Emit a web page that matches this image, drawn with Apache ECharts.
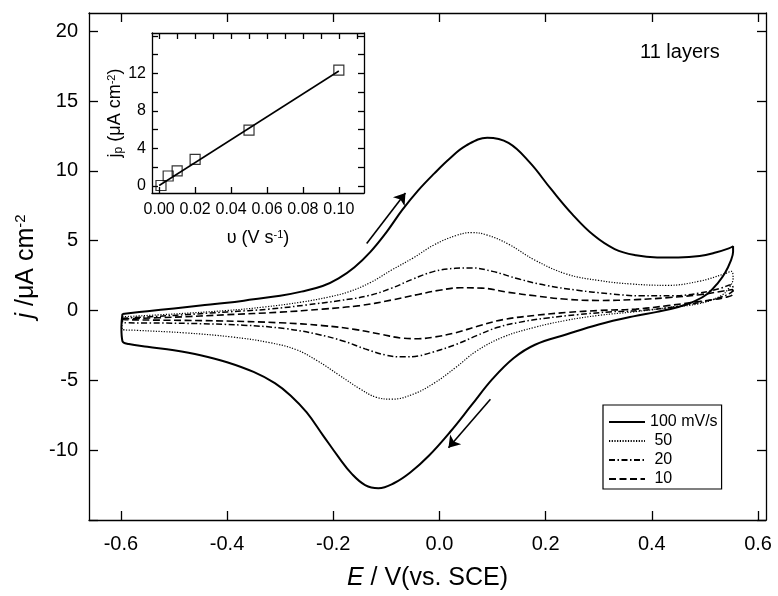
<!DOCTYPE html>
<html><head><meta charset="utf-8">
<script src="https://cdn.jsdelivr.net/npm/echarts@6/dist/echarts.min.js"></script>
<style>html,body{margin:0;padding:0;background:#fff}#c{width:778px;height:596px}</style>
</head><body><div id="c"></div>
<script>
// ---- data (E / V vs SCE, j / uA cm^-2) ----
const cv100 = [[-0.597,-0.25],[-0.55,-0.05],[-0.5,0.15],[-0.45,0.35],[-0.4,0.55],[-0.35,0.8],[-0.3,1.05],[-0.26,1.35],[-0.22,1.75],[-0.19,2.3],[-0.16,3.1],[-0.13,4.2],[-0.10,5.6],[-0.07,7.2],[-0.04,8.6],[-0.01,9.8],[0.02,10.9],[0.05,11.8],[0.09,12.37],[0.13,12.0],[0.17,10.6],[0.21,8.7],[0.25,6.9],[0.29,5.4],[0.33,4.4],[0.37,3.95],[0.41,3.8],[0.45,3.8],[0.49,3.9],[0.52,4.15],[0.545,4.45],[0.553,4.6],[0.553,4.2],[0.548,3.5],[0.538,2.7],[0.525,2.0],[0.505,1.2],[0.48,0.65],[0.45,0.25],[0.41,-0.1],[0.365,-0.42],[0.30,-1.0],[0.24,-1.7],[0.18,-2.45],[0.14,-3.4],[0.10,-4.9],[0.06,-6.8],[0.02,-8.7],[-0.02,-10.4],[-0.055,-11.6],[-0.085,-12.35],[-0.115,-12.72],[-0.14,-12.5],[-0.165,-11.7],[-0.19,-10.5],[-0.22,-8.9],[-0.25,-7.3],[-0.28,-6.1],[-0.31,-5.2],[-0.35,-4.4],[-0.40,-3.7],[-0.45,-3.2],[-0.50,-2.85],[-0.55,-2.6],[-0.585,-2.4],[-0.597,-2.2],[-0.599,-1.2],[-0.597,-0.25]];
const cv50 = [[-0.597,-0.45],[-0.5,-0.25],[-0.4,0.0],[-0.33,0.25],[-0.26,0.6],[-0.21,0.95],[-0.17,1.35],[-0.13,2.0],[-0.09,2.9],[-0.05,3.75],[-0.01,4.7],[0.03,5.35],[0.06,5.58],[0.09,5.4],[0.13,4.75],[0.18,3.6],[0.24,2.6],[0.30,2.15],[0.36,1.9],[0.43,1.8],[0.49,2.1],[0.535,2.6],[0.55,2.8],[0.553,2.3],[0.545,1.6],[0.53,1.05],[0.49,0.5],[0.43,0.2],[0.365,-0.1],[0.30,-0.35],[0.24,-0.7],[0.18,-1.2],[0.12,-1.9],[0.07,-2.9],[0.03,-4.1],[-0.01,-5.2],[-0.05,-6.0],[-0.09,-6.35],[-0.12,-6.2],[-0.15,-5.6],[-0.19,-4.6],[-0.23,-3.6],[-0.27,-2.8],[-0.32,-2.3],[-0.39,-1.9],[-0.48,-1.6],[-0.57,-1.42],[-0.597,-1.35],[-0.598,-0.9],[-0.597,-0.45]];
const cv20 = [[-0.597,-0.55],[-0.5,-0.35],[-0.4,-0.1],[-0.32,0.1],[-0.25,0.4],[-0.19,0.7],[-0.135,1.05],[-0.09,1.6],[-0.05,2.25],[-0.01,2.8],[0.03,3.02],[0.06,3.05],[0.1,2.8],[0.15,2.25],[0.2,1.8],[0.26,1.45],[0.32,1.2],[0.38,1.05],[0.44,1.05],[0.49,1.25],[0.53,1.6],[0.55,1.85],[0.553,1.5],[0.54,1.1],[0.5,0.65],[0.44,0.25],[0.38,0.0],[0.32,-0.1],[0.26,-0.3],[0.2,-0.55],[0.15,-0.85],[0.11,-1.2],[0.07,-1.8],[0.03,-2.45],[-0.01,-2.95],[-0.04,-3.25],[-0.07,-3.32],[-0.1,-3.2],[-0.14,-2.75],[-0.18,-2.2],[-0.23,-1.7],[-0.29,-1.3],[-0.37,-1.05],[-0.48,-0.92],[-0.597,-0.85],[-0.597,-0.55]];
const cv10 = [[-0.597,-0.6],[-0.5,-0.48],[-0.4,-0.3],[-0.3,-0.12],[-0.22,0.1],[-0.15,0.35],[-0.09,0.75],[-0.04,1.15],[0.0,1.45],[0.04,1.63],[0.08,1.6],[0.13,1.3],[0.18,1.05],[0.24,0.8],[0.3,0.72],[0.37,0.78],[0.43,0.92],[0.49,1.13],[0.535,1.4],[0.552,1.5],[0.553,1.2],[0.54,0.95],[0.49,0.65],[0.43,0.35],[0.37,0.1],[0.3,0.0],[0.24,-0.14],[0.18,-0.35],[0.12,-0.65],[0.07,-1.15],[0.03,-1.6],[-0.01,-1.9],[-0.04,-2.02],[-0.07,-1.98],[-0.11,-1.7],[-0.16,-1.35],[-0.22,-1.08],[-0.3,-0.88],[-0.42,-0.74],[-0.597,-0.64],[-0.597,-0.6]];
const seriesNames = ['100 mV/s','50','20','10'];
// inset: scan rate (V/s) vs peak current (uA cm^-2)
const scanRate = [0.001,0.005,0.01,0.02,0.05,0.1];
const peakCurrent = [0.05,1.06,1.6,2.84,5.96,12.34];
const fitLine = [[0.0,0.05],[0.1,12.25]];
// arrows (data coords)
const arrowUp = [[-0.137,4.8],[-0.064,8.41]];
const arrowDown = [[0.096,-6.36],[0.017,-9.82]];
// ticks
const mainXTicks = [-0.6,-0.4,-0.2,0,0.2,0.4,0.6];
const mainYTicks = [-10,-5,0,5,10,15,20];
const mainYTickMarks = [-15,-10,-5,0,5,10,15,20];
const insetXTicks = [0,0.02,0.04,0.06,0.08,0.1];
const insetXTopTicks = [0,0.01,0.02,0.03,0.04,0.05,0.06,0.07,0.08,0.09,0.1,0.11];
const insetYTicks = [0,4,8,12];
const insetYTickMarks = [0,2,4,6,8,10,12,14,16];

const FF = '"Liberation Sans", Arial, Helvetica, sans-serif';
const ax = {color:'#000', width:1.3};
const chart = echarts.init(document.getElementById('c'), null, {renderer:'canvas'});

const pairs = scanRate.map((v,i)=>[v, peakCurrent[i]]);

const option = {
  backgroundColor:'#fff',
  animation:false,
  textStyle:{fontFamily:FF, color:'#000'},
  title:{text:'11 layers', left:640, top:42, padding:0, textStyle:{fontFamily:FF, fontSize:20, fontWeight:'normal', color:'#000'}},
  legend:{
    data:seriesNames, orient:'vertical', left:603, top:405,
    padding:[9,4,2,5], itemGap:3, itemWidth:36, itemHeight:14,
    borderColor:'#000', borderWidth:1.2, backgroundColor:'#fff',
    itemStyle:{color:'rgba(0,0,0,0)', borderColor:'rgba(0,0,0,0)', borderWidth:0, opacity:0},
    formatter: n => n === '100 mV/s' ? n : ' ' + n,
    textStyle:{fontFamily:FF, fontSize:16, color:'#000', lineHeight:16}
  },
  grid:[
    {left:89, top:13, width:677, height:510},
    {left:152, top:33, width:212, height:160, show:true, backgroundColor:'#fff', borderWidth:0}
  ],
  xAxis:[
    {gridIndex:0, type:'value', min:-0.66, max:0.615, position:'bottom',
     axisLine:{onZero:false, lineStyle:ax},
     axisTick:{inside:true, length:9, customValues:mainXTicks, lineStyle:ax},
     axisLabel:{customValues:mainXTicks, formatter:v=>v.toFixed(1), color:'#000', fontSize:20, margin:14, fontFamily:FF},
     splitLine:{show:false},
     name:'{i|E} / V(vs. SCE)', nameLocation:'middle', nameGap:46,
     nameTextStyle:{fontFamily:FF, fontSize:25, color:'#000', rich:{i:{fontStyle:'italic', fontSize:25, fontFamily:FF}}}},
    {gridIndex:0, type:'value', min:-0.66, max:0.615, position:'top',
     axisLine:{onZero:false, lineStyle:ax},
     axisTick:{inside:true, length:9, customValues:mainXTicks, lineStyle:ax},
     axisLabel:{show:false}, splitLine:{show:false}},
    {gridIndex:1, type:'value', min:-0.004, max:0.114, position:'bottom',
     axisLine:{onZero:false, lineStyle:ax},
     axisTick:{inside:true, length:6, customValues:insetXTicks, lineStyle:ax},
     axisLabel:{customValues:insetXTicks, formatter:v=>v.toFixed(2), color:'#000', fontSize:16, margin:9, fontFamily:FF},
     splitLine:{show:false},
     name:'\u03c5 (V s{sup|-1})', nameLocation:'middle', nameGap:36,
     nameTextStyle:{fontFamily:FF, fontSize:18, color:'#000', rich:{sup:{fontSize:11, verticalAlign:'top', fontFamily:FF}}}},
    {gridIndex:1, type:'value', min:-0.004, max:0.114, position:'top',
     axisLine:{onZero:false, lineStyle:ax},
     axisTick:{inside:true, length:6, customValues:insetXTopTicks, lineStyle:ax},
     axisLabel:{show:false}, splitLine:{show:false}}
  ],
  yAxis:[
    {gridIndex:0, type:'value', min:-15, max:21.3, position:'left',
     axisLine:{onZero:false, lineStyle:ax},
     axisTick:{inside:true, length:9, customValues:mainYTickMarks, lineStyle:ax},
     axisLabel:{customValues:mainYTicks, color:'#000', fontSize:20, margin:11, fontFamily:FF},
     splitLine:{show:false},
     name:'{i|j} /\u03bcA cm{sup|-2}', nameLocation:'middle', nameGap:44,
     nameTextStyle:{fontFamily:FF, fontSize:25, color:'#000', rich:{i:{fontStyle:'italic', fontSize:25, fontFamily:FF}, sup:{fontSize:15, verticalAlign:'top', fontFamily:FF}}}},
    {gridIndex:0, type:'value', min:-15, max:21.3, position:'right',
     axisLine:{onZero:false, lineStyle:ax},
     axisTick:{inside:true, length:9, customValues:mainYTickMarks, lineStyle:ax},
     axisLabel:{show:false}, splitLine:{show:false}},
    {gridIndex:1, type:'value', min:-0.75, max:16.3, position:'left',
     axisLine:{onZero:false, lineStyle:ax},
     axisTick:{inside:true, length:6, customValues:insetYTickMarks, lineStyle:ax},
     axisLabel:{customValues:insetYTicks, color:'#000', fontSize:16, margin:6, fontFamily:FF},
     splitLine:{show:false},
     name:'j{sub|p} (\u03bcA cm{sup|-2})', nameLocation:'middle', nameGap:25,
     nameTextStyle:{fontFamily:FF, fontSize:18, color:'#000', rich:{sub:{fontSize:12, verticalAlign:'bottom', fontFamily:FF}, sup:{fontSize:11, verticalAlign:'top', fontFamily:FF}}}},
    {gridIndex:1, type:'value', min:-0.75, max:16.3, position:'right',
     axisLine:{onZero:false, lineStyle:ax},
     axisTick:{inside:true, length:6, customValues:insetYTickMarks, lineStyle:ax},
     axisLabel:{show:false}, splitLine:{show:false}}
  ],
  series:[
    {name:seriesNames[0], type:'line', xAxisIndex:0, yAxisIndex:0, data:cv100, symbol:'none', smooth:0.4,
     lineStyle:{color:'#000', width:2, type:'solid'}, itemStyle:{color:'#000'}},
    {name:seriesNames[1], type:'line', xAxisIndex:0, yAxisIndex:0, data:cv50, symbol:'none', smooth:0.4,
     lineStyle:{color:'#000', width:1.2, type:[1.2,1.5]}, itemStyle:{color:'#000'}},
    {name:seriesNames[2], type:'line', xAxisIndex:0, yAxisIndex:0, data:cv20, symbol:'none', smooth:0.4,
     lineStyle:{color:'#000', width:1.5, type:[6,2.5,1.5,2.5]}, itemStyle:{color:'#000'}},
    {name:seriesNames[3], type:'line', xAxisIndex:0, yAxisIndex:0, data:cv10, symbol:'none', smooth:0.4,
     lineStyle:{color:'#000', width:1.6, type:[7,3.5]}, itemStyle:{color:'#000'}},
    {name:'arrows', type:'lines', coordinateSystem:'cartesian2d', xAxisIndex:0, yAxisIndex:0,
     symbol:['none','arrow'], symbolSize:[8,11],
     lineStyle:{color:'#000', width:1.6, opacity:1},
     data:[{coords:arrowUp},{coords:arrowDown}]},
    {name:'fit', type:'line', xAxisIndex:2, yAxisIndex:2, data:fitLine, symbol:'none',
     lineStyle:{color:'#000', width:1.5}, z:3},
    {name:'jp', type:'scatter', xAxisIndex:2, yAxisIndex:2, data:pairs, symbol:'rect', symbolSize:10,
     itemStyle:{color:'rgba(255,255,255,0)', borderColor:'#000', borderWidth:1.2}, z:4}
  ]
};
chart.setOption(option);
</script></body></html>
